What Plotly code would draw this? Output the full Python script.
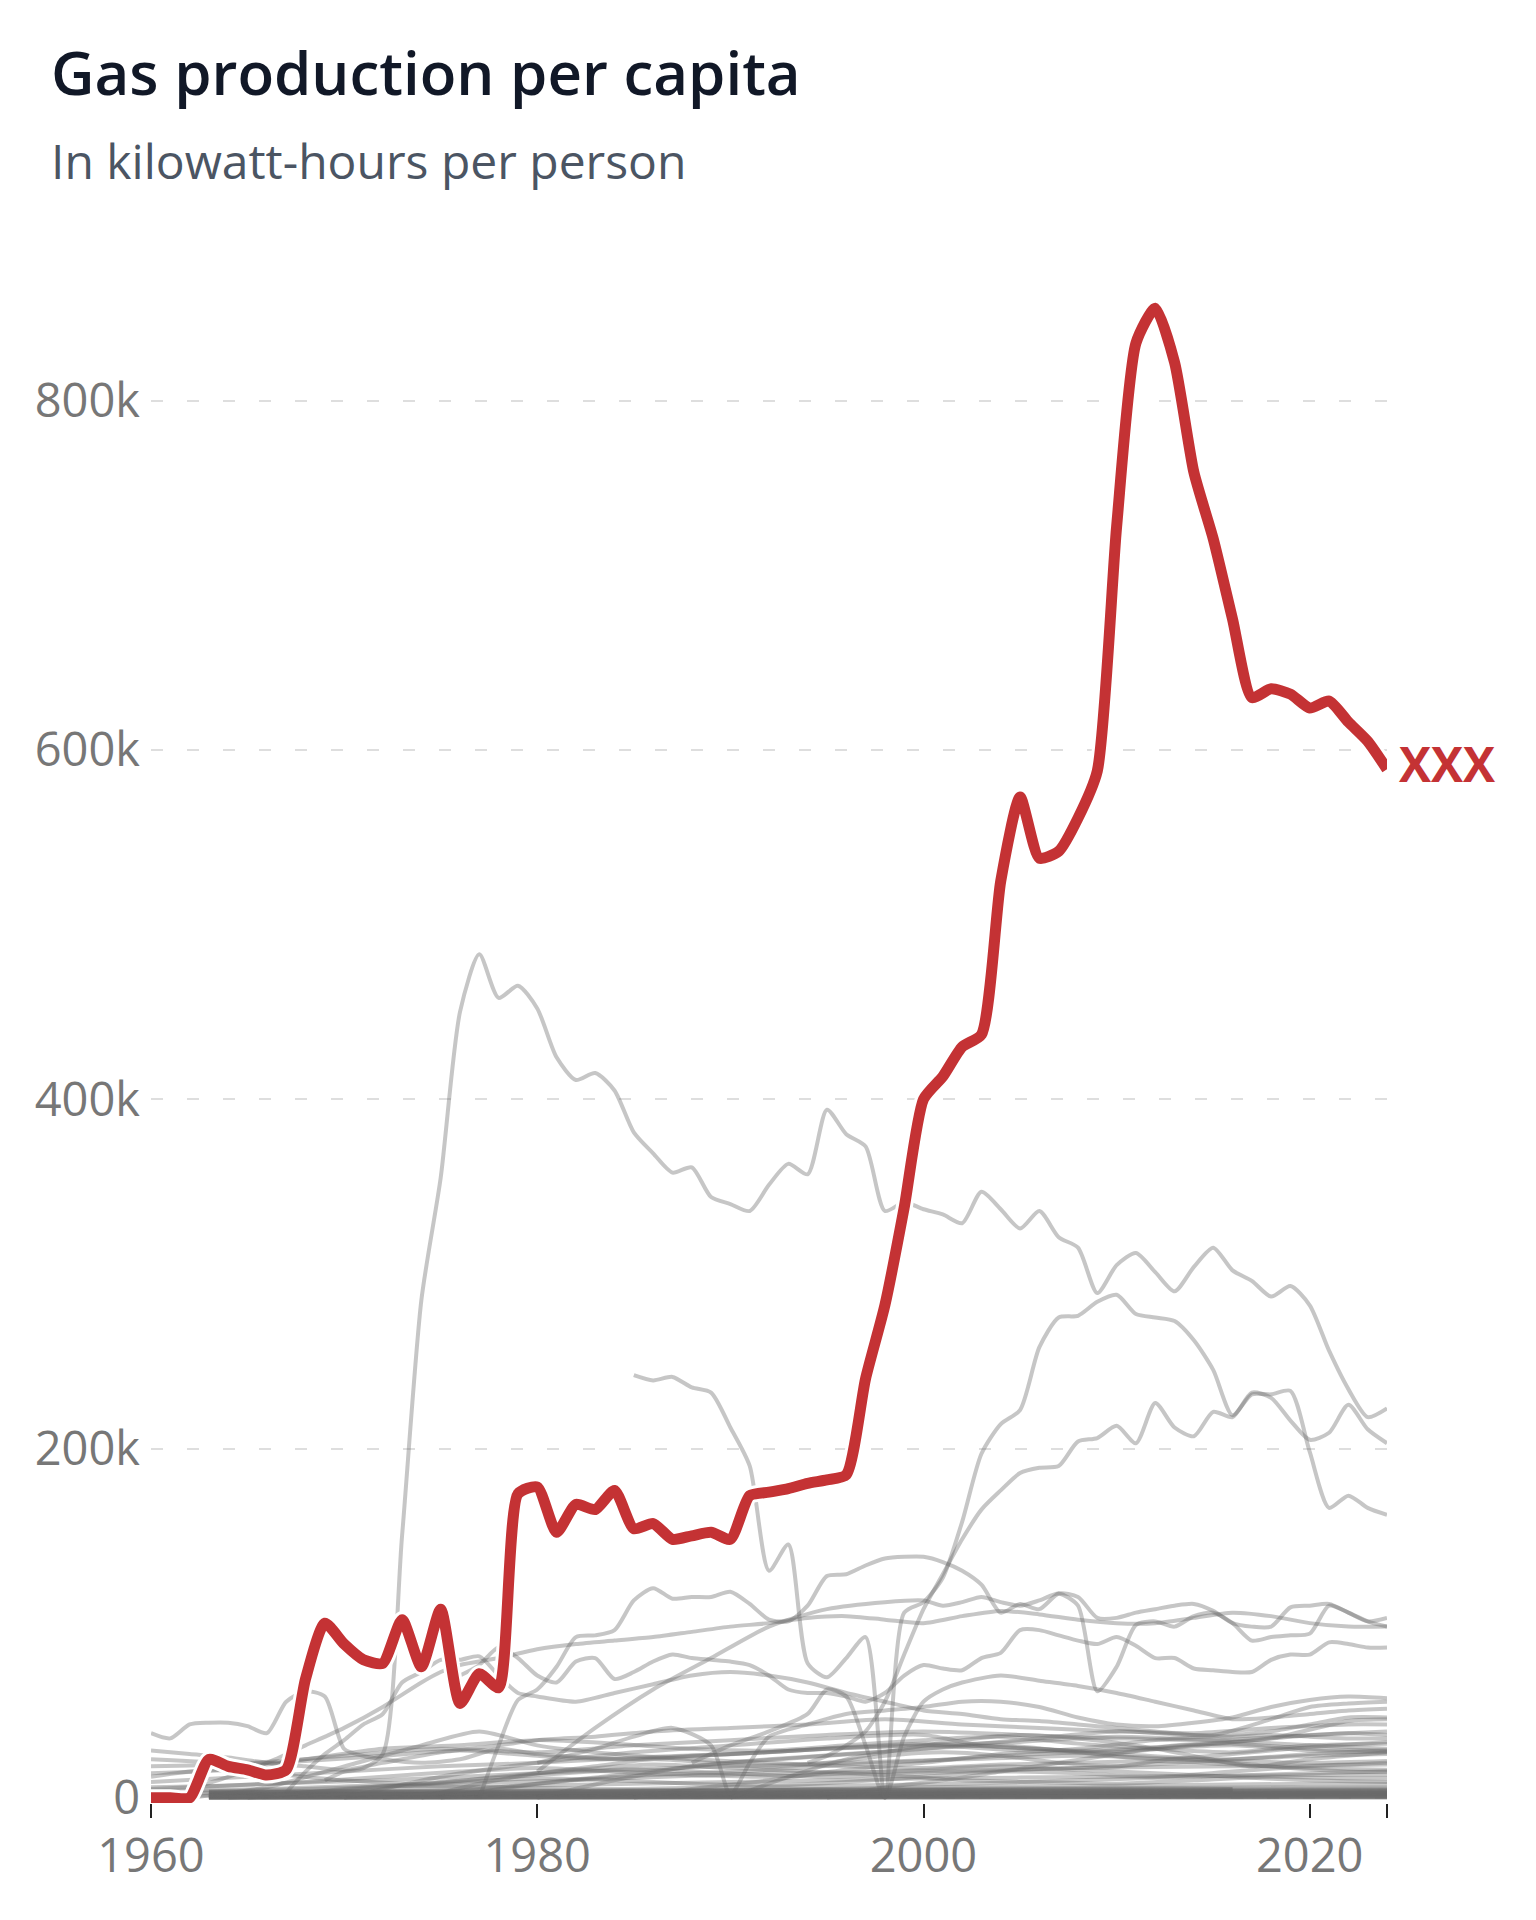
import plotly.graph_objects as go

# ---------------- data (values in thousand kWh per person) ----------------
years = list(range(1960, 2025))
highlight_label = "XXX"
highlight_k = [0, 0, 0, 22, 18, 16, 13, 16, 68, 100,
               88, 79, 77, 102, 75, 108, 54, 71, 63, 174,
               178, 152, 168, 165, 176, 154, 157, 148, 150, 152,
               148, 173, 175, 177, 180, 182, 185, 240, 282, 338,
               400, 413, 430, 437, 525, 573, 538, 542, 561, 588,
               728, 833, 853, 822, 759, 721, 675, 630, 635, 632,
               624, 628, 616, 605, 589]

series_a = [(1969, 10), (1970, 15), (1971, 17), (1972, 25), (1973, 150), (1974, 285), (1975, 355),
            (1976, 450), (1977, 483), (1978, 458), (1979, 465), (1980, 452), (1981, 424), (1982, 411),
            (1983, 415), (1984, 405), (1985, 381), (1986, 369), (1987, 358), (1988, 361), (1989, 344),
            (1990, 340), (1991, 336), (1992, 351), (1993, 363), (1994, 357), (1995, 394), (1996, 380),
            (1997, 373), (1998, 336), (1999, 341), (2000, 337), (2001, 334), (2002, 329), (2003, 347),
            (2004, 337), (2005, 326), (2006, 336), (2007, 321), (2008, 315), (2009, 289), (2010, 305),
            (2011, 312), (2012, 301), (2013, 290), (2014, 304), (2015, 315), (2016, 302), (2017, 296),
            (2018, 287), (2019, 293), (2020, 282), (2021, 256), (2022, 234), (2023, 218), (2024, 223)]
series_b = [(1985, 242), (1986, 239), (1987, 241), (1988, 235), (1989, 232), (1990, 212), (1991, 190),
            (1992, 130), (1993, 145), (1994, 77), (1995, 69), (1996, 80), (1997, 92), (1998, 0),
            (1999, 106), (2000, 112), (2001, 126), (2002, 158), (2003, 197), (2004, 214), (2005, 222),
            (2006, 258), (2007, 275), (2008, 276), (2009, 284), (2010, 288), (2011, 277), (2012, 275),
            (2013, 273), (2014, 262), (2015, 245), (2016, 219), (2017, 231), (2018, 231), (2019, 233),
            (2020, 198), (2021, 166), (2022, 173), (2023, 166), (2024, 162)]
series_d = [(1994, 20), (1995, 24), (1996, 30), (1997, 38), (1998, 55), (1999, 82), (2000, 108),
            (2001, 128), (2002, 148), (2003, 165), (2004, 176), (2005, 186), (2006, 189), (2007, 190),
            (2008, 204), (2009, 206), (2010, 213), (2011, 203), (2012, 226), (2013, 212), (2014, 207),
            (2015, 221), (2016, 218), (2017, 232), (2018, 229), (2019, 216), (2020, 205), (2021, 209),
            (2022, 225), (2023, 211), (2024, 203)]
series_e = [(1977, 0), (1978, 30), (1979, 56), (1980, 62), (1981, 75), (1982, 92), (1983, 93),
            (1984, 96), (1985, 113), (1986, 120), (1987, 114), (1988, 115), (1989, 115), (1990, 118),
            (1991, 111), (1992, 102), (1993, 101), (1994, 110), (1995, 127), (1996, 128), (1997, 133),
            (1998, 137), (1999, 138), (2000, 138), (2001, 135), (2002, 130), (2003, 122), (2004, 106),
            (2005, 111), (2006, 108), (2007, 117), (2008, 115), (2009, 103), (2010, 103), (2011, 106),
            (2012, 108), (2013, 110), (2014, 111), (2015, 107), (2016, 100), (2017, 98), (2018, 98),
            (2019, 109), (2020, 110), (2021, 111), (2022, 106), (2023, 101), (2024, 103)]
series_k = [(1980, 15), (1983, 40), (1986, 62), (1989, 80), (1992, 98), (1995, 108), (1998, 112),
            (2000, 113), (2001, 110), (2002, 112), (2003, 115), (2004, 112), (2005, 110), (2006, 113),
            (2007, 117), (2008, 110), (2009, 61), (2010, 75), (2011, 99), (2012, 101), (2013, 98),
            (2014, 104), (2015, 106), (2016, 100), (2017, 90), (2018, 92), (2019, 93), (2020, 94),
            (2021, 110), (2022, 106), (2023, 101), (2024, 98)]
series_h = [(1962, 5), (1964, 12), (1966, 20), (1968, 30), (1970, 40), (1972, 52), (1974, 66),
            (1975, 72), (1976, 76), (1978, 80), (1980, 85), (1982, 88), (1984, 90), (1986, 92),
            (1988, 95), (1990, 98), (1992, 100), (1994, 103), (1996, 104), (1998, 102), (2000, 100),
            (2002, 104), (2004, 107), (2006, 105), (2008, 102), (2010, 100), (2012, 100), (2014, 103),
            (2016, 106), (2018, 104), (2020, 100), (2022, 98), (2024, 98)]
series_j = [(1976, 70), (1977, 76), (1978, 86), (1979, 80), (1980, 70), (1981, 66), (1982, 78),
            (1983, 80), (1984, 68), (1985, 72), (1986, 78), (1987, 82), (1988, 80), (1989, 79),
            (1990, 78), (1991, 76), (1992, 70), (1993, 62), (1994, 60), (1995, 60), (1996, 58),
            (1997, 55), (1998, 60), (1999, 70), (2000, 76), (2001, 74), (2002, 73), (2003, 80),
            (2004, 83), (2005, 96), (2006, 96), (2007, 93), (2008, 90), (2009, 88), (2010, 92),
            (2011, 87), (2012, 80), (2013, 80), (2014, 74), (2015, 73), (2016, 72), (2017, 72),
            (2018, 79), (2019, 82), (2020, 82), (2021, 89), (2022, 88), (2023, 86), (2024, 86)]
series_m = [(1967, 3), (1968, 15), (1969, 25), (1970, 33), (1971, 42), (1972, 48), (1973, 66),
            (1974, 72), (1975, 79), (1976, 79), (1977, 81), (1978, 70), (1979, 60), (1980, 58),
            (1982, 55), (1984, 60), (1986, 65), (1988, 70), (1990, 72), (1992, 70), (1994, 66),
            (1996, 60), (1998, 55), (2000, 50), (2002, 48), (2004, 45), (2006, 44), (2008, 42),
            (2010, 40), (2012, 38), (2014, 36), (2016, 35), (2018, 36), (2020, 35), (2022, 34), (2024, 34)]
series_f = [(1960, 37), (1961, 34), (1962, 42), (1963, 43), (1964, 43), (1965, 41), (1966, 37),
            (1967, 55), (1968, 61), (1969, 58), (1970, 28), (1971, 24), (1972, 22), (1974, 20),
            (1976, 22), (1978, 28), (1980, 25), (1985, 22), (1990, 25), (1995, 28), (2000, 30),
            (2005, 32), (2010, 35), (2015, 33), (2020, 30), (2024, 28)]
series_g = [(1960, 27), (1962, 25), (1964, 23), (1966, 20), (1968, 18), (1970, 16), (1972, 20),
            (1975, 26), (1978, 30), (1980, 33), (1983, 35), (1986, 38), (1990, 40), (1994, 42),
            (1998, 45), (2002, 42), (2006, 40), (2010, 38), (2014, 37), (2018, 40), (2022, 42), (2024, 42)]
series_n1 = [(1980, 20), (1983, 28), (1985, 35), (1987, 40), (1989, 30), (1990, 2), (1991, 20),
             (1992, 35), (1994, 42), (1996, 48), (1998, 50), (2000, 52), (2002, 55), (2004, 55),
             (2006, 52), (2008, 46), (2010, 42), (2012, 41), (2014, 43), (2016, 46), (2018, 52),
             (2020, 56), (2022, 58), (2024, 57)]
series_n2 = [(1988, 20), (1990, 30), (1992, 38), (1994, 48), (1995, 62), (1996, 58), (1997, 30),
             (1998, 0), (1999, 35), (2000, 55), (2001, 62), (2002, 66), (2004, 70), (2006, 67),
             (2008, 64), (2010, 60), (2012, 55), (2014, 50), (2016, 45), (2018, 46), (2020, 48),
             (2022, 50), (2024, 51)]
low01 = [(1960, 22), (1965, 20), (1970, 24), (1975, 28), (1980, 26), (1985, 30), (1990, 33), (1995, 36),
         (2000, 38), (2005, 36), (2010, 34), (2015, 33), (2020, 36), (2024, 38)]
low02 = [(1960, 14), (1964, 16), (1968, 22), (1972, 28), (1976, 30), (1980, 33), (1984, 31), (1988, 28),
         (1992, 27), (1996, 30), (2000, 33), (2004, 35), (2008, 31), (2012, 28), (2016, 26), (2020, 30), (2024, 31)]
low03 = [(1960, 9), (1965, 12), (1970, 15), (1975, 18), (1980, 20), (1985, 23), (1990, 25), (1995, 28),
         (2000, 30), (2005, 27), (2010, 25), (2015, 22), (2020, 24), (2024, 25)]
low04 = [(1960, 5), (1966, 8), (1972, 10), (1978, 13), (1984, 16), (1990, 18), (1996, 20), (2002, 22),
         (2008, 24), (2014, 22), (2020, 20), (2024, 21)]
low05 = [(1962, 0), (1966, 6), (1970, 18), (1974, 30), (1977, 38), (1980, 30), (1984, 25), (1988, 22),
         (1992, 20), (1996, 18), (2000, 17), (2004, 19), (2008, 20), (2012, 21), (2016, 19), (2020, 17), (2024, 16)]
low06 = [(1970, 0), (1975, 12), (1980, 20), (1985, 26), (1990, 30), (1995, 34), (2000, 36), (2003, 30),
         (2006, 28), (2010, 26), (2014, 30), (2018, 34), (2022, 44), (2024, 45)]
low07 = [(1975, 0), (1980, 8), (1985, 14), (1990, 20), (1995, 24), (2000, 28), (2005, 33), (2010, 38),
         (2015, 36), (2018, 45), (2020, 52), (2022, 54), (2024, 55)]
low08 = [(1960, 3), (1968, 5), (1976, 8), (1984, 11), (1992, 14), (2000, 15), (2008, 17), (2016, 18), (2024, 19)]
low09 = [(1965, 0), (1970, 5), (1975, 9), (1980, 13), (1985, 16), (1990, 14), (1995, 12), (2000, 14),
         (2005, 16), (2010, 18), (2015, 21), (2020, 25), (2024, 27)]
low10 = [(1960, 2), (1970, 4), (1980, 7), (1990, 9), (2000, 11), (2010, 12), (2020, 13), (2024, 13)]
low11 = [(1980, 0), (1984, 10), (1988, 18), (1992, 22), (1996, 25), (2000, 28), (2004, 30), (2008, 26),
         (2012, 22), (2016, 25), (2020, 29), (2024, 32)]
low12 = [(1960, 6), (1964, 7), (1968, 9), (1972, 12), (1976, 15), (1980, 17), (1984, 15), (1988, 13),
         (1992, 12), (1996, 14), (2000, 16), (2004, 18), (2008, 16), (2012, 14), (2016, 12), (2020, 10), (2024, 9)]
low13 = [(1990, 0), (1993, 12), (1996, 22), (1999, 28), (2002, 33), (2005, 36), (2008, 34), (2011, 30),
         (2014, 24), (2017, 18), (2020, 22), (2024, 26)]
low14 = [(1960, 12), (1963, 16), (1966, 14), (1970, 10), (1974, 8), (1978, 12), (1982, 16), (1986, 19),
         (1990, 17), (1994, 15), (1998, 13), (2002, 10), (2006, 9), (2010, 8), (2014, 10), (2018, 12), (2022, 11), (2024, 11)]
low15 = [(1985, 0), (1988, 5), (1992, 10), (1996, 16), (2000, 20), (2004, 25), (2008, 28), (2012, 33),
         (2016, 36), (2018, 38), (2020, 42), (2022, 46), (2024, 46)]
low16 = [(1960, 1), (1970, 2), (1980, 3), (1990, 4), (2000, 6), (2010, 7), (2020, 8), (2024, 8)]
low17 = [(1972, 0), (1976, 4), (1980, 8), (1984, 12), (1988, 14), (1992, 16), (1996, 19), (2000, 21),
         (2004, 24), (2008, 26), (2012, 28), (2016, 30), (2020, 27), (2024, 26)]
low18 = [(1964, 0), (1968, 3), (1972, 6), (1976, 9), (1980, 11), (1984, 10), (1988, 8), (1992, 7),
         (1996, 9), (2000, 12), (2004, 15), (2008, 14), (2012, 12), (2016, 15), (2020, 18), (2024, 20)]
low19 = [(1995, 0), (1998, 6), (2001, 10), (2004, 15), (2007, 20), (2010, 25), (2013, 30), (2016, 32),
         (2019, 35), (2022, 37), (2024, 36)]
low20 = [(1960, 4), (1966, 5), (1972, 7), (1978, 6), (1984, 5), (1990, 6), (1996, 7), (2002, 8),
         (2008, 10), (2014, 12), (2020, 14), (2024, 15)]
low21 = [(1974, 0), (1977, 8), (1980, 14), (1983, 18), (1986, 22), (1989, 20), (1992, 18), (1995, 20),
         (1998, 24), (2001, 26), (2004, 24), (2007, 20), (2010, 18), (2013, 22), (2016, 20), (2019, 17), (2022, 15), (2024, 15)]
low22 = [(1960, 18), (1964, 19), (1968, 21), (1972, 24), (1976, 27), (1980, 24), (1984, 22), (1988, 24),
         (1992, 26), (1996, 29), (2000, 31), (2004, 29), (2008, 27), (2012, 29), (2016, 31), (2020, 28), (2024, 27)]
zero01 = [(1963, 0.3), (1975, 0.6), (1990, 1.0), (2005, 1.4), (2024, 1.8)]
zero02 = [(1963, 0.8), (1975, 1.2), (1990, 1.6), (2005, 2.2), (2024, 2.6)]
zero03 = [(1963, 0.2), (1980, 0.4), (2000, 0.7), (2024, 1.0)]
zero04 = [(1963, 1.2), (1980, 1.8), (2000, 2.5), (2016, 3.0), (2024, 3.2)]
zero05 = [(1963, 0.1), (1990, 0.2), (2024, 0.4)]
zero06 = [(1965, 0.5), (1985, 1.3), (2005, 2.0), (2024, 2.4)]
zero07 = [(1963, 1.8), (1980, 2.4), (2000, 3.4), (2024, 4.2)]
zero08 = [(1963, 0.6), (1985, 0.9), (2016, 1.2)]
zero09 = [(1963, 0.0), (2024, 0.0)]
zero10 = [(1963, 2.5), (1980, 3.5), (2000, 4.5), (2016, 5.0)]
zero11 = [(1970, 0.3), (1990, 0.8), (2010, 1.2), (2024, 1.5)]
zero12 = [(1963, 1.5), (1990, 2.0), (2010, 2.8), (2024, 3.5)]
zero13 = [(1963, 3.0), (1980, 3.8), (2000, 4.8), (2024, 5.5)]
zero14 = [(1963, 0.9), (1990, 1.4), (2024, 2.0)]
zero15 = [(1963, 2.2), (1985, 2.8), (2005, 3.6), (2024, 4.0)]
zero16 = [(1963, 0.4), (1990, 0.5), (2024, 0.8)]
zero17 = [(1963, 3.6), (1985, 4.4), (2005, 5.4), (2024, 6.0)]
zero18 = [(1963, 1.0), (1985, 1.5), (2005, 2.4), (2024, 3.0)]
zero19 = [(1963, 0.0), (1990, 0.3), (2024, 0.6)]
zero20 = [(1963, 2.0), (1990, 2.6), (2016, 3.3)]
zero21 = [(1963, 2.8), (1985, 3.2), (2005, 4.0), (2024, 4.6)]
zero22 = [(1963, 1.4), (1990, 1.9), (2024, 2.3)]
zero23 = [(1963, 0.5), (1990, 0.7), (2024, 1.2)]
zero24 = [(1963, 3.3), (1990, 4.1), (2016, 4.7)]
zero25 = [(1963, 1.7), (1985, 2.1), (2005, 2.9), (2024, 3.8)]
zero26 = [(1963, 0.2), (1990, 0.4), (2024, 0.5)]

gray_series = [zero01, zero02, zero03, zero04, zero05, zero06, zero07, zero08, zero09, zero10,
               zero11, zero12, zero13, zero14, zero15, zero16, zero17, zero18, zero19, zero20,
               zero21, zero22, zero23, zero24, zero25, zero26,
               low01, low02, low03, low04, low05, low06, low07, low08, low09, low10, low11, low12, low13,
               low14, low15, low16, low17, low18, low19, low20, low21, low22,
               series_f, series_g, series_n1, series_n2, series_m, series_j, series_h, series_k,
               series_e, series_d, series_b, series_a]

y_tick_vals = [0, 200000, 400000, 600000, 800000]
y_tick_text = ["0", "200k", "400k", "600k", "800k"]
x_tick_vals = [1960, 1980, 2000, 2020, 2024]
x_tick_text = ["1960", "1980", "2000", "2020", ""]

# ---------------- layout geometry ----------------
W, H = 1536, 1920
OFF = 8  # page body margin
FONT = "Open Sans"
RED = "#c43234"
ML, MR = 151 - OFF, 149 + OFF
ZERO_PX = 1798.0 - OFF
PX_PER_UNIT = 349.4 / 200000
Y_MIN, Y_MAX = -3000, 880000
plot_top = ZERO_PX - Y_MAX * PX_PER_UNIT
plot_bottom = ZERO_PX - Y_MIN * PX_PER_UNIT
MT, MB = plot_top, H - plot_bottom
plot_h = plot_bottom - plot_top
plot_w = W - ML - MR


def paper_x(px):
    return (px - OFF - ML) / plot_w


def paper_y(py):
    return (plot_bottom - (py - OFF)) / plot_h


fig = go.Figure()
for s in gray_series:
    fig.add_trace(go.Scatter(
        x=[p[0] for p in s], y=[p[1] * 1000 for p in s], mode="lines",
        line=dict(color="rgba(105,105,105,0.38)", width=4, shape="spline", smoothing=0.7),
        hoverinfo="skip", showlegend=False))

hv = [v * 1000 for v in highlight_k]
fig.add_trace(go.Scatter(x=years, y=hv, mode="lines",
                         line=dict(color="white", width=17, shape="spline", smoothing=0.6),
                         hoverinfo="skip", showlegend=False))
fig.add_trace(go.Scatter(x=years, y=hv, mode="lines",
                         line=dict(color=RED, width=11, shape="spline", smoothing=0.6),
                         hoverinfo="skip", showlegend=False))

fig.add_annotation(x=years[-1], y=hv[-1], xref="x", yref="y", text=highlight_label,
                   showarrow=False, xanchor="left", yanchor="middle", xshift=10, yshift=6,
                   font=dict(family=FONT, size=48, color=RED, weight=700))
fig.add_annotation(x=paper_x(49), y=paper_y(72), xref="paper", yref="paper",
                   text="Gas production per capita", showarrow=False,
                   xanchor="left", yanchor="middle",
                   font=dict(family=FONT, size=60, color="#111827", weight=600))
fig.add_annotation(x=paper_x(49), y=paper_y(160), xref="paper", yref="paper",
                   text="In kilowatt-hours per person", showarrow=False,
                   xanchor="left", yanchor="middle",
                   font=dict(family=FONT, size=48, color="#4b5563"))

fig.update_layout(
    width=W, height=H,
    margin=dict(l=ML, r=MR, t=MT, b=MB, pad=0),
    paper_bgcolor="white", plot_bgcolor="white",
    showlegend=False, hovermode=False,
    font=dict(family=FONT),
    xaxis=dict(range=[1960, 2024], tickvals=x_tick_vals, ticktext=x_tick_text,
               showgrid=False, zeroline=False, showline=False,
               ticks="outside", ticklen=14, tickwidth=2, tickcolor="#222222",
               tickfont=dict(family=FONT, size=47, color="#777777"),
               ticklabelstandoff=-2),
    yaxis=dict(range=[Y_MIN, Y_MAX], tickvals=y_tick_vals, ticktext=y_tick_text,
               showgrid=True, gridcolor="#dedede", gridwidth=2, griddash="12px,24px",
               zeroline=False, showline=False, ticks="",
               tickfont=dict(family=FONT, size=47, color="#777777"),
               ticklabelstandoff=10),
)

fig.write_html("out.html")
